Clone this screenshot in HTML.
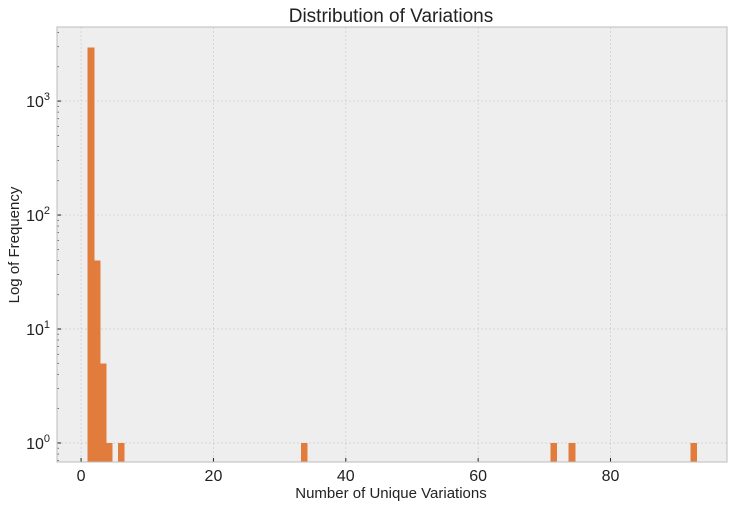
<!DOCTYPE html>
<html><head><meta charset="utf-8"><style>
body{margin:0;background:#fff;}
svg text{font-family:"Liberation Sans","DejaVu Sans",sans-serif;fill:#222;}
</style></head><body>
<svg id="chart" width="733" height="507" xmlns="http://www.w3.org/2000/svg">
<rect x="57" y="27" width="670" height="435" fill="#eeeeee"/>
<g id="grid"></g>
<g id="bars" shape-rendering="crispEdges"></g>
<g id="ticks"></g>
<rect x="57" y="27" width="670" height="435" fill="none" stroke="#bcbcbc" stroke-width="1"/>
<text x="391" y="22" font-size="19" text-anchor="middle">Distribution of Variations</text>
<text x="391" y="498" font-size="15" text-anchor="middle">Number of Unique Variations</text>
<text x="19" y="245" font-size="15" text-anchor="middle" transform="rotate(-90 19 245)">Log of Frequency</text>
</svg>
<script>
const values=[1,2,3,4,6,34,71,74,93];
const counts=[2960,40,5,1,1,1,1,1,1];
const xTicks=[0,20,40,60,80];
const yTicks=[0,1,2,3];
const NS='http://www.w3.org/2000/svg';
const L=57,R=727,T=27,B=462;
const xMin=-3.64,xMax=97.6, lMin=-0.167, lMax=3.65;
const X=v=>L+(v-xMin)/(xMax-xMin)*(R-L);
const Y=c=>B-(Math.log10(c)-lMin)/(lMax-lMin)*(B-T);
function mk(tag,attrs,parent){const e=document.createElementNS(NS,tag);for(const k in attrs)e.setAttribute(k,attrs[k]);parent.appendChild(e);return e;}
const grid=document.getElementById('grid'),bars=document.getElementById('bars'),ticks=document.getElementById('ticks');
xTicks.forEach(t=>{const x=X(t);
 const g=mk('line',{x1:x,x2:x,y1:T,y2:B,stroke:'#cccccc','stroke-dasharray':'2,2','stroke-width':0.7},grid);
 
 const tk=mk('line',{x1:x,x2:x,y1:B,y2:B-4,stroke:'#222'},ticks);
 
 const tx=mk('text',{x:x,y:B+19,'font-size':16,'text-anchor':'middle'},ticks);tx.textContent=t;
 
});
yTicks.forEach(p=>{const y=Y(Math.pow(10,p));
 const g=mk('line',{x1:L,x2:R,y1:y,y2:y,stroke:'#cccccc','stroke-dasharray':'2,2','stroke-width':0.7},grid);
 
 const tk=mk('line',{x1:L,x2:L+4,y1:y,y2:y,stroke:'#222'},ticks);
 
 const tx=mk('text',{x:L-7,y:y+6,'font-size':16,'text-anchor':'end'},ticks);
 tx.innerHTML='10<tspan dy="-7" font-size="11">'+p+'</tspan>';
 
});
for(let p=-1;p<4;p++)for(let m=2;m<10;m++){const c=m*Math.pow(10,p);const l=Math.log10(c);if(l<lMin||l>lMax)continue;const y=Y(c);
 const tk=mk('line',{x1:L,x2:L+2,y1:y,y2:y,stroke:'#444','stroke-width':0.7},ticks);
 }
const vmin=Math.min(...values),vmax=Math.max(...values),nb=100,bw=(vmax-vmin)/nb;
values.forEach((v,i)=>{let k=Math.floor((v-vmin)/bw);if(k>=nb)k=nb-1;const x0=vmin+k*bw;
 const r=mk('rect',{x:X(x0),y:Y(counts[i]),width:X(x0+bw)-X(x0)+0.5,height:B-Y(counts[i]),fill:'#e27c3c'},bars);
 });
</script>
</body></html>
